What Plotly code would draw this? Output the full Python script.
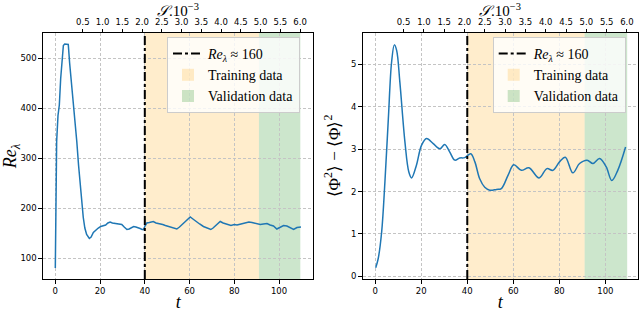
import plotly.graph_objects as go

# ---------------- data ----------------
t_re = [0, 0.6, 1.2, 1.8, 2.4, 3.0, 3.6, 4.2, 5.0, 5.8, 6.4, 6.9, 7.4, 7.8, 8.6, 9.6, 10.4, 11.1,
        12.5, 13.2, 14.0, 15.2, 16.0, 17.0, 18.0, 19.2, 20.3, 21.5, 22.5, 23.5, 24.5, 25.5, 26.5,
        27.5, 28.6, 29.7, 30.8, 32.0, 33.0, 34.0, 35.0, 36.0, 37.0, 37.9, 38.8, 39.4,
        40.2, 40.9, 42.0, 43.8, 45.0, 46.8, 48.0, 49.2, 50.6, 52.0, 53.0, 54.3, 55.5, 57.3, 58.5,
        60.3, 61.5, 63.3, 64.5, 66.2, 67.5, 69.5, 70.5, 72.0, 73.7, 75.0, 76.7, 78.5, 80.0, 81.2,
        83.0, 84.9, 86.5, 87.9, 89.5, 91.6, 93.0, 94.6, 96.0, 97.5, 99.0, 100.5, 102.0, 103.5,
        105.0, 106.5, 108.0, 109.8]
re_lambda = [80, 333, 385, 406, 459, 495, 525, 528, 528, 527, 490, 465, 440, 432, 385, 333, 285, 246,
             181, 160, 147, 139, 142, 151, 156, 160, 163, 165, 166, 170, 172, 170, 169,
             168, 168, 167, 162, 157, 158, 161, 163, 162, 161, 159, 157, 157,
             165, 170, 171, 173, 170, 169, 167, 165, 163, 162, 160, 158, 162, 170, 176,
             182, 178, 173, 168, 163, 160, 157, 160, 166, 173, 170, 167, 165, 167, 166,
             168, 171, 172, 171, 169, 167, 168, 169, 166, 164, 158, 162, 165, 164,
             160, 157, 161, 162]

t_phi = [0.2, 1.3, 2.8, 4.2, 5.7, 7.1, 8.3, 9.3, 10.7, 12.9, 14.6, 15.8, 17.9, 20.1, 22.3, 25.2,
         28.1, 30.2, 32.4, 34.6, 36.7, 38.9, 41.5, 43.3, 45.4, 47.6, 49.8, 52.7, 54.8, 57.7, 60.2,
         63.5, 66.8, 71.2, 74.6, 77.2, 80.1, 82.6, 85.9, 88.8, 92.1, 94.6, 97.5, 100.4, 102.8,
         105.4, 108.8]
phi_var = [0.2, 0.42, 1.05, 2.22, 3.72, 5.05, 5.46, 5.33, 4.58, 3.17, 2.46, 2.32, 2.62, 3.09, 3.25, 3.13,
           3.01, 3.11, 2.93, 2.74, 2.79, 2.80, 2.89, 2.70, 2.30, 2.10, 2.03, 2.05, 2.07, 2.38, 2.63,
           2.50, 2.56, 2.32, 2.54, 2.50, 2.70, 2.81, 2.44, 2.66, 2.74, 2.66, 2.78, 2.58, 2.26,
           2.50, 3.05]

train_start = 40.0
train_end = 91.0
val_end = 109.5

s_ticks = [0.5, 1.0, 1.5, 2.0, 2.5, 3.0, 3.5, 4.0, 4.5, 5.0, 5.5, 6.0]
S_T0 = 3.5     # t at which S = 0
S_K = 17.65    # t units per unit of S*10^-3

re_ticks = [100, 200, 300, 400, 500]
phi_ticks = [0, 1, 2, 3, 4, 5]
t_ticks = [0, 20, 40, 60, 80, 100]

# ---------------- styling ----------------
BLUE = "#1f77b4"
TRAIN = "rgba(255,165,0,0.2)"
VAL = "rgba(0,128,0,0.2)"
SERIF = "Liberation Serif"
SANS = "DejaVu Sans"
TICKFONT = dict(family=SANS, size=8.5, color="black")

xr1 = [-5.5, 115.3]
xr2 = [-5.45, 114.2]
yr1 = [58, 550]
yr2 = [-0.064, 5.74]

fig = go.Figure()

fig.add_trace(go.Scatter(x=t_re, y=re_lambda, mode="lines", line=dict(color=BLUE, width=1.5),
                         xaxis="x", yaxis="y", showlegend=False))
fig.add_trace(go.Scatter(x=t_phi, y=phi_var, mode="lines", line=dict(color=BLUE, width=1.5, shape="spline"),
                         xaxis="x2", yaxis="y2", showlegend=False))

# dummy traces to register the top axes
fig.add_trace(go.Scatter(x=[(xr1[0] - S_T0) / S_K, (xr1[1] - S_T0) / S_K], y=[yr1[0], yr1[0]],
                         mode="lines", opacity=0, xaxis="x3", yaxis="y", showlegend=False, hoverinfo="skip"))
fig.add_trace(go.Scatter(x=[(xr2[0] - S_T0) / S_K, (xr2[1] - S_T0) / S_K], y=[yr2[0], yr2[0]],
                         mode="lines", opacity=0, xaxis="x4", yaxis="y2", showlegend=False, hoverinfo="skip"))

for xa, ya, leg in [("x", "y", "legend"), ("x2", "y2", "legend2")]:
    ydom = ya + " domain"
    fig.add_shape(type="line", x0=train_start, x1=train_start, y0=0, y1=1, xref=xa, yref=ydom,
                  line=dict(color="black", width=2, dash="dashdot"), layer="above",
                  showlegend=True, name="<i>Re</i><sub><i>λ</i></sub> ≈ 160", legend=leg, legendrank=1)
    fig.add_shape(type="rect", x0=train_start, x1=train_end, y0=0, y1=1, xref=xa, yref=ydom,
                  fillcolor=TRAIN, line=dict(width=0), layer="below",
                  showlegend=True, name="Training data", legend=leg, legendrank=2)
    fig.add_shape(type="rect", x0=train_end, x1=val_end, y0=0, y1=1, xref=xa, yref=ydom,
                  fillcolor=VAL, line=dict(width=0), layer="below",
                  showlegend=True, name="Validation data", legend=leg, legendrank=3)

L = 43
R = 2
W = 640 - L - R
d1 = [0, (313.3 - L) / W]
d2 = [(362.7 - L) / W, 1]

axis_common = dict(showline=True, linecolor="black", linewidth=1.2, mirror=True,
                   ticks="outside", ticklen=3.5, tickwidth=0.8, tickcolor="black",
                   tickfont=TICKFONT, showgrid=True, gridcolor="#c4c4c4", griddash="3px,2px",
                   gridwidth=0.8, zeroline=False, automargin=False)

top_common = dict(showline=False, ticks="outside", ticklen=3.5, tickwidth=0.8, tickcolor="black",
                  tickfont=TICKFONT, showgrid=False, zeroline=False, side="top", automargin=False,
                  tickmode="array", tickvals=s_ticks, ticktext=[f"{v:.1f}" for v in s_ticks])

S_TITLE = "<i>𝒮</i>.10<sup>−3</sup>"
for xd in ["x3 domain", "x4 domain"]:
    fig.add_annotation(text=S_TITLE, xref=xd, yref="paper", x=0.5, y=1, xanchor="center", yanchor="bottom",
                       yshift=12.5, showarrow=False, font=dict(family=SERIF, size=15, color="black"))

fig.update_layout(
    width=640, height=312,
    margin=dict(l=L, r=R, t=33, b=33),
    paper_bgcolor="white", plot_bgcolor="white",
    xaxis=dict(domain=d1, anchor="y", range=xr1, tickvals=t_ticks,
               title=dict(text="<i>t</i>", font=dict(family=SERIF, size=18, color="black"), standoff=1),
               **axis_common),
    yaxis=dict(domain=[0, 1], anchor="x", range=yr1, tickvals=re_ticks,
               title=dict(text="<i>Re</i><sub><i>λ</i></sub>", font=dict(family=SERIF, size=18, color="black"),
                          standoff=4),
               **axis_common),
    xaxis2=dict(domain=d2, anchor="y2", range=xr2, tickvals=t_ticks,
                title=dict(text="<i>t</i>", font=dict(family=SERIF, size=18, color="black"), standoff=1),
                **axis_common),
    yaxis2=dict(domain=[0, 1], anchor="x2", range=yr2, tickvals=phi_ticks,
                title=dict(text="⟨Φ<sup>2</sup>⟩ − ⟨Φ⟩<sup>2</sup>", font=dict(family=SERIF, size=17, color="black"),
                           standoff=6),
                **axis_common),
    xaxis3=dict(overlaying="x", anchor="y", range=[(xr1[0] - S_T0) / S_K, (xr1[1] - S_T0) / S_K], **top_common),
    xaxis4=dict(overlaying="x2", anchor="y2", range=[(xr2[0] - S_T0) / S_K, (xr2[1] - S_T0) / S_K], **top_common),
    legend=dict(x=(167 - L) / W, y=1 - (37 - 33) / 246, xanchor="left", yanchor="top",
                bgcolor="rgba(255,255,255,0.8)", bordercolor="#cccccc", borderwidth=1,
                font=dict(family=SERIF, size=14, color="black"), tracegroupgap=0, itemwidth=30),
    legend2=dict(x=(492.7 - L) / W, y=1 - (37 - 33) / 246, xanchor="left", yanchor="top",
                 bgcolor="rgba(255,255,255,0.8)", bordercolor="#cccccc", borderwidth=1,
                 font=dict(family=SERIF, size=14, color="black"), tracegroupgap=0, itemwidth=30),
)

fig.write_html("out.html", config={"displayModeBar": False},
               post_script="document.body.style.margin='0';document.body.style.padding='0';")
